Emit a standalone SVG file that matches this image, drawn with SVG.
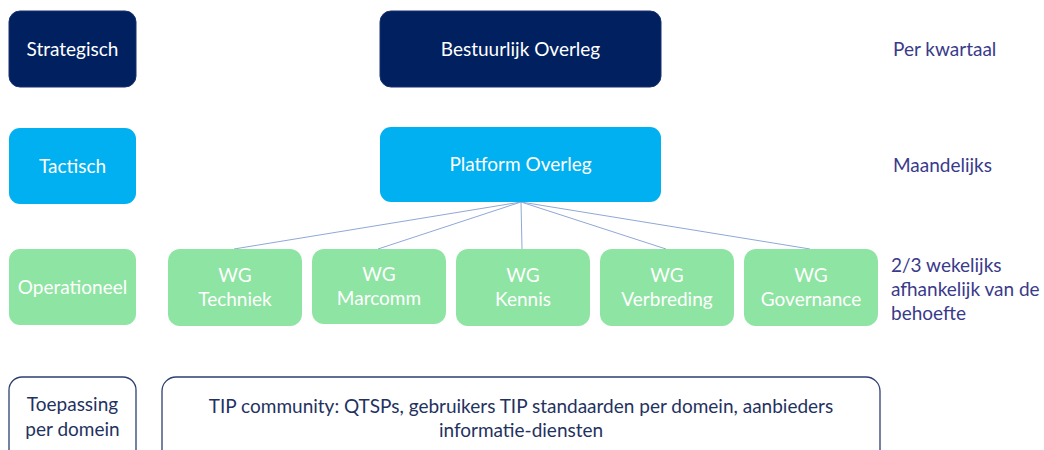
<svg xmlns="http://www.w3.org/2000/svg" width="1044" height="450" viewBox="0 0 1044 450">
<style>
text{font-family:Lato,"Open Sans","Liberation Sans",sans-serif;font-size:19px;text-anchor:middle}
.w{fill:#ffffff}
.d{fill:#1f3260}
.r{fill:#3a3a8a;text-anchor:start}
.s{fill:#002060;stroke:#1a2f70;stroke-width:1}
.t{fill:#00b0f0}
.g{fill:#8ee4a2}
.o{fill:#ffffff;stroke:#2f3e73;stroke-width:1.3}
.c{stroke:#8fa8d6;stroke-width:1;fill:none}
</style>
<rect width="1044" height="450" fill="#ffffff"/>
<g id="connectors">
<line class="c" x1="521" y1="202" x2="234" y2="249"/>
<line class="c" x1="521" y1="202" x2="378" y2="249"/>
<line class="c" x1="521" y1="202" x2="522" y2="249"/>
<line class="c" x1="521" y1="202" x2="666" y2="249"/>
<line class="c" x1="521" y1="202" x2="810" y2="249"/>
</g>
<g id="strategisch"><rect class="s" x="9" y="11" width="127" height="76" rx="11"/><text class="w" x="72.5" y="56">Strategisch</text></g>
<g id="tactisch"><rect class="t" x="9" y="128" width="127" height="76" rx="11"/><text class="w" x="72.5" y="173">Tactisch</text></g>
<g id="operationeel"><rect class="g" x="9" y="249" width="127" height="76" rx="11"/><text class="w" x="72.5" y="294">Operationeel</text></g>
<g id="toepassing"><rect class="o" x="9" y="377" width="127" height="90" rx="13"/><text class="d" x="72.5" y="411">Toepassing</text><text class="d" x="72.5" y="436">per domein</text></g>
<g id="bestuurlijk"><rect class="s" x="380" y="11" width="281" height="76" rx="11"/><text class="w" x="520.5" y="56">Bestuurlijk Overleg</text></g>
<g id="platform"><rect class="t" x="380" y="127" width="281" height="75" rx="11"/><text class="w" x="520.5" y="171">Platform Overleg</text></g>
<g id="wg-techniek"><rect class="g" x="168" y="249" width="134" height="77" rx="12"/><text class="w" x="235" y="282">WG</text><text class="w" x="235" y="306">Techniek</text></g>
<g id="wg-marcomm"><rect class="g" x="312" y="249" width="134" height="75" rx="12"/><text class="w" x="379" y="281">WG</text><text class="w" x="379" y="305">Marcomm</text></g>
<g id="wg-kennis"><rect class="g" x="456" y="249" width="134" height="77" rx="12"/><text class="w" x="523" y="282">WG</text><text class="w" x="523" y="306">Kennis</text></g>
<g id="wg-verbreding"><rect class="g" x="600" y="249" width="134" height="77" rx="12"/><text class="w" x="667" y="282">WG</text><text class="w" x="667" y="306">Verbreding</text></g>
<g id="wg-governance"><rect class="g" x="744" y="249" width="134" height="77" rx="12"/><text class="w" x="811" y="282">WG</text><text class="w" x="811" y="306">Governance</text></g>
<g id="tip-community"><rect class="o" x="162" y="377" width="718" height="90" rx="14"/><text class="d" x="521" y="413">TIP community: QTSPs, gebruikers TIP standaarden per domein, aanbieders</text><text class="d" x="521" y="437">informatie-diensten</text></g>
<g id="freq">
<text class="r" x="893" y="56">Per kwartaal</text>
<text class="r" x="893" y="172">Maandelijks</text>
<text class="r" x="891" y="272">2/3 wekelijks</text>
<text class="r" x="891" y="296">afhankelijk van de</text>
<text class="r" x="891" y="320">behoefte</text>
</g>
</svg>
